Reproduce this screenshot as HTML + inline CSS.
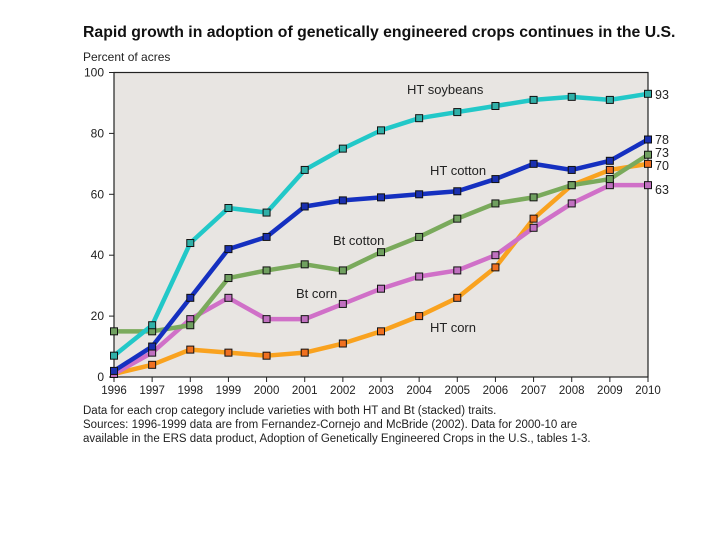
<!DOCTYPE html>
<html><head><meta charset="utf-8"><style>
body{margin:0;background:#fff;font-family:"Liberation Sans",sans-serif}
svg text{font-family:"Liberation Sans",sans-serif}
</style></head><body>
<svg width="720" height="540">
<text x="83" y="37" font-size="15.8" font-weight="bold" fill="#111">Rapid growth in adoption of genetically engineered crops continues in the U.S.</text>
<text x="83" y="61" font-size="12" fill="#222">Percent of acres</text>
<rect x="114" y="72.5" width="534" height="304.5" fill="#e8e5e2" stroke="#222" stroke-width="1.2"/>
<g id="axes"></g>
<g id="series"></g>
<g id="labels" font-size="13" fill="#222">
<text x="407" y="94">HT soybeans</text>
<text x="430" y="175">HT cotton</text>
<text x="333" y="245">Bt cotton</text>
<text x="296" y="298">Bt corn</text>
<text x="430" y="332">HT corn</text>
</g>
<g font-size="12.5" fill="#222">
<text x="655" y="99">93</text>
<text x="655" y="144">78</text>
<text x="655" y="157">73</text>
<text x="655" y="170">70</text>
<text x="655" y="194">63</text>
</g>
<g font-size="11.5" fill="#222">
<text x="83" y="414">Data for each crop category include varieties with both HT and Bt (stacked) traits.</text>
<text x="83" y="428">Sources: 1996-1999 data are from Fernandez-Cornejo and McBride (2002). Data for 2000-10 are</text>
<text x="83" y="442">available in the ERS data product, Adoption of Genetically Engineered Crops in the U.S., tables 1-3.</text>
</g>
</svg>
<script>
const years=[1996,1997,1998,1999,2000,2001,2002,2003,2004,2005,2006,2007,2008,2009,2010];
const yTicks=[0,20,40,60,80,100];
const htSoybeans=[7,17,44,55.5,54,68,75,81,85,87,89,91,92,91,93];
const htCotton=[2,10,26,42,46,56,58,59,60,61,65,70,68,71,78];
const btCotton=[15,15,17,32.5,35,37,35,41,46,52,57,59,63,65,73];
const btCorn=[1,8,19,26,19,19,24,29,33,35,40,49,57,63,63];
const htCorn=[1,4,9,8,7,8,11,15,20,26,36,52,63,68,70];
const NS='http://www.w3.org/2000/svg';
const x0=114,x1=648,yTop=72.5,yBot=377;
const xs=i=>x0+(x1-x0)*i/(years.length-1);
const ys=v=>yBot-(yBot-yTop)*v/100;
function mk(t,a,p){const e=document.createElementNS(NS,t);for(const k in a)e.setAttribute(k,a[k]);p.appendChild(e);return e;}
const ax=document.getElementById('axes');
yTicks.forEach(v=>{
 const t=mk('line',{x1:x0-5,x2:x0,y1:ys(v),y2:ys(v),stroke:'#222'},ax);
 
 
 const l=mk('text',{x:x0-10,y:ys(v)+4,'text-anchor':'end','font-size':'12',fill:'#222'},ax);
 l.textContent=v;
 
 
});
years.forEach((y,i)=>{
 const t=mk('line',{x1:xs(i),x2:xs(i),y1:yBot,y2:yBot+5,stroke:'#222'},ax);
 
 
 const l=mk('text',{x:xs(i),y:yBot+17,'text-anchor':'middle','font-size':'11.5',fill:'#222'},ax);
 l.textContent=y;
 
 
});
const sg=document.getElementById('series');
const defs=[['ht-corn',htCorn,'#f9a21f','#f07020'],['bt-corn',btCorn,'#d070c8','#c070c0'],['bt-cotton',btCotton,'#7aaa5c','#70a060'],['ht-cotton',htCotton,'#1530c0','#1a30b0'],['ht-soybeans',htSoybeans,'#22c8c8','#30b0a8']];
defs.forEach(([n,d,c,m])=>{
 const p=mk('polyline',{points:d.map((v,i)=>xs(i)+','+ys(v)).join(' '),fill:'none',stroke:c,'stroke-width':'4.5','stroke-linejoin':'round'},sg);
 
 
});
defs.forEach(([n,d,c,m])=>{
 d.forEach((v,i)=>{
  const r=mk('rect',{x:xs(i)-3.5,y:ys(v)-3.5,width:7,height:7,fill:m,stroke:'#111','stroke-width':'1'},sg);
  
  
 });
});
</script>
</body></html>
